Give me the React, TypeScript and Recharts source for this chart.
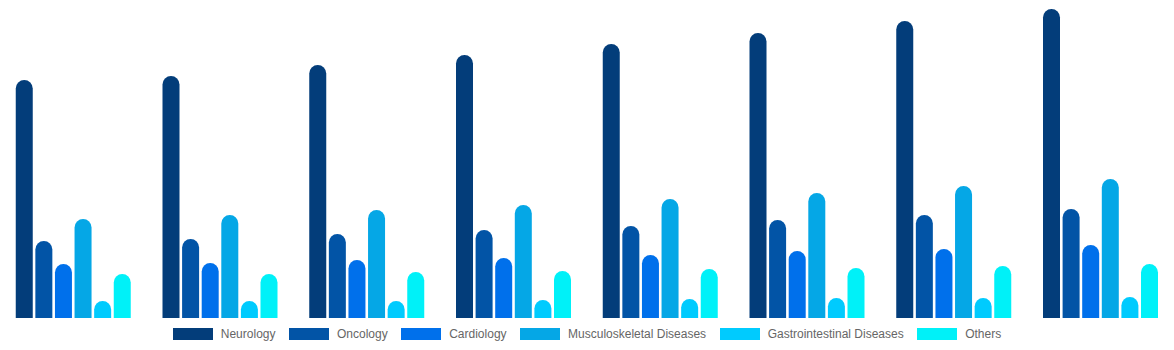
import React from 'react';
import { BarChart, Bar, XAxis, YAxis, Legend } from 'recharts';

const categories = ['2023', '2024', '2025', '2026', '2027', '2028', '2029', '2030'];
const neurology = [23.8, 24.2, 25.3, 26.3, 27.4, 28.5, 29.7, 30.9];
const oncology = [7.7, 7.9, 8.4, 8.8, 9.2, 9.8, 10.3, 10.9];
const cardiology = [5.4, 5.5, 5.8, 6.0, 6.3, 6.7, 6.9, 7.3];
const musculoskeletal = [9.9, 10.3, 10.8, 11.3, 11.9, 12.5, 13.2, 13.9];
const gastrointestinal = [1.7, 1.7, 1.7, 1.8, 1.9, 2.0, 2.0, 2.1];
const others = [4.4, 4.4, 4.6, 4.7, 4.9, 5.0, 5.2, 5.4];

const seriesNames = [
  'Neurology',
  'Oncology',
  'Cardiology',
  'Musculoskeletal Diseases',
  'Gastrointestinal Diseases',
  'Others',
];
const seriesColors = ['#033d7a', '#0254a6', '#0070eb', '#05a7e6', '#00cbfe', '#00f1f8'];
const seriesValues = [neurology, oncology, cardiology, musculoskeletal, gastrointestinal, others];

const data = categories.map((c, i) => {
  const row: Record<string, string | number> = { category: c };
  seriesNames.forEach((name, s) => {
    row[name] = seriesValues[s][i];
  });
  return row;
});

const LegendContent = () => (
  <div
    style={{
      height: 32,
      display: 'flex',
      justifyContent: 'center',
      alignItems: 'center',
      fontFamily: '"Liberation Sans", Arial, sans-serif',
      fontSize: 12,
      color: '#666',
    }}
  >
    {seriesNames.map((name, i) => (
      <div
        key={name}
        style={{
          display: 'flex',
          alignItems: 'center',
          marginRight: i < seriesNames.length - 1 ? 13.5 : 0,
        }}
      >
        <span
          style={{
            display: 'inline-block',
            width: 40,
            height: 12,
            background: seriesColors[i],
            marginRight: 8,
          }}
        />
        <span>{name}</span>
      </div>
    ))}
  </div>
);

export default function App() {
  return (
    <div style={{ position: 'absolute', left: 0, top: 0, background: '#fff' }}>
      <BarChart
        width={1174}
        height={350}
        data={data}
        margin={{ top: 8, right: 0, bottom: 0, left: 0 }}
        barCategoryGap={15.75}
        barGap={2.6}
      >
        <XAxis dataKey="category" hide />
        <YAxis hide domain={[0, 31]} />
        <Legend verticalAlign="bottom" content={<LegendContent />} />
        {seriesNames.map((name, i) => (
          <Bar
            key={name}
            dataKey={name}
            fill={seriesColors[i]}
            radius={[9, 9, 0, 0]}
            isAnimationActive={false}
          />
        ))}
      </BarChart>
    </div>
  );
}
